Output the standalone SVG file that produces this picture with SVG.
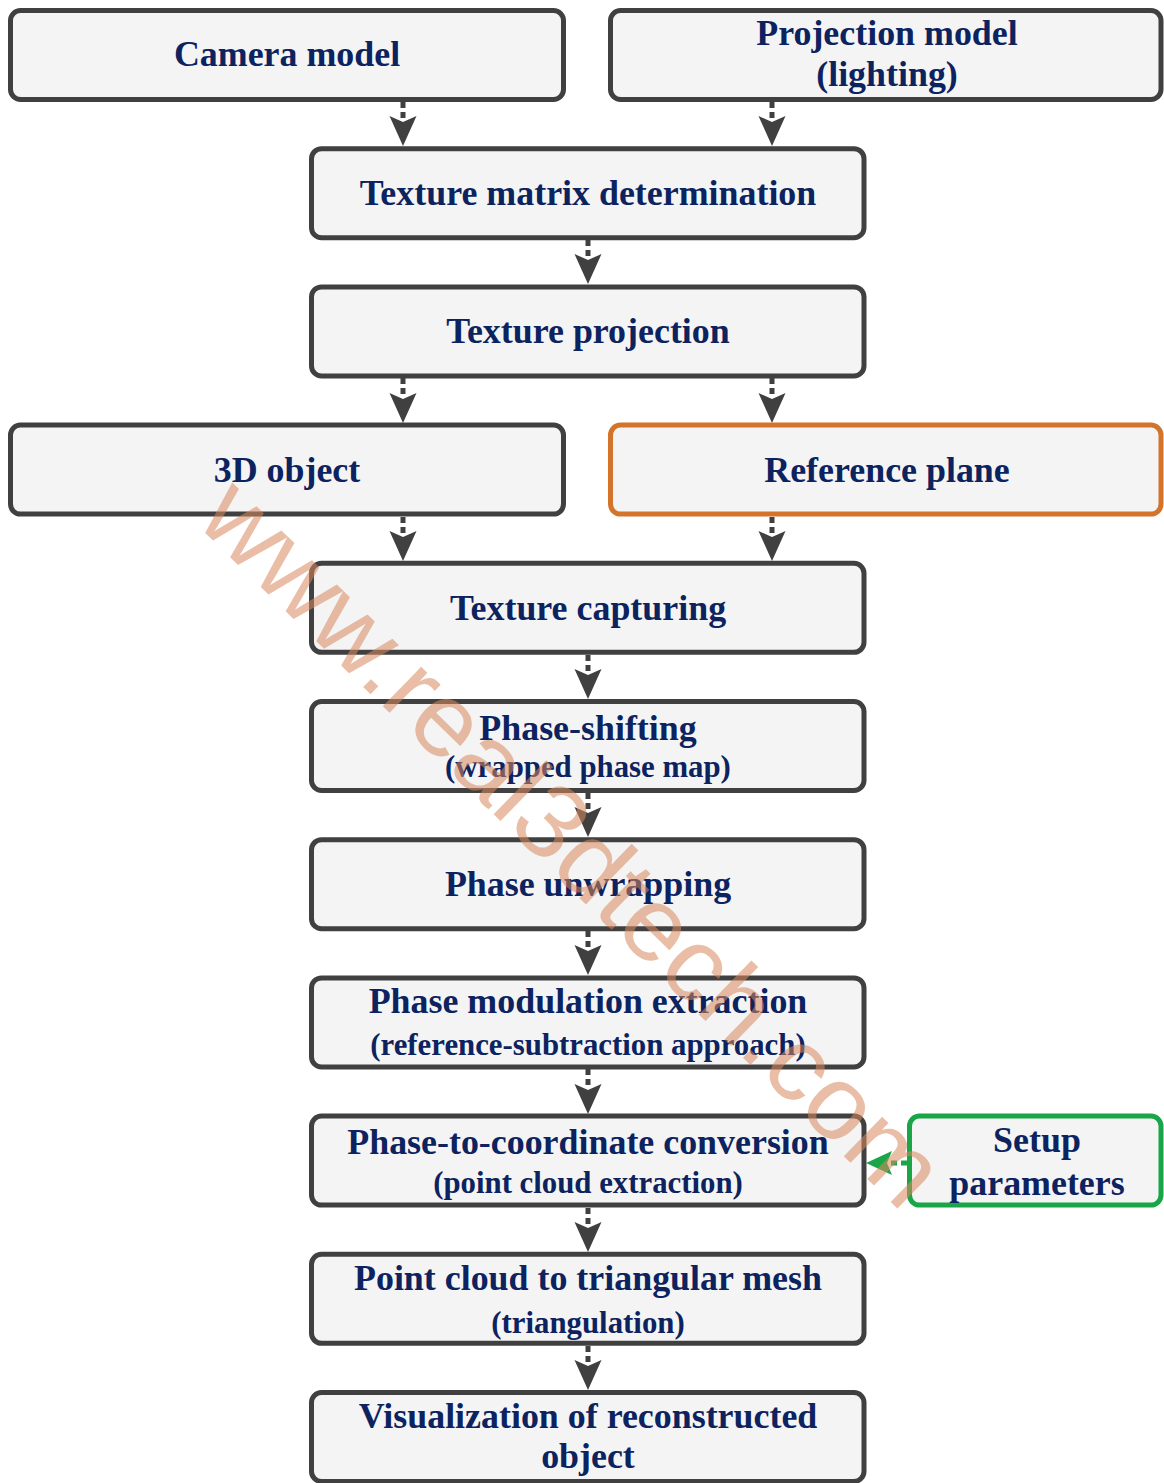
<svg xmlns="http://www.w3.org/2000/svg" width="1164" height="1483" viewBox="0 0 1164 1483">
<style>
.box{fill:#f4f4f4;stroke:#404040;stroke-width:5}
.orange{stroke:#d4742a}
.green{stroke:#19a548}
.t{font-family:"Liberation Serif","Times New Roman",serif;font-weight:bold;fill:#0c235f;text-anchor:middle;font-size:35.9px}
.s{font-size:30.8px}
.stem{stroke:#404040;stroke-width:5;stroke-dasharray:6 4;fill:none}
.head{fill:#404040}
.wm{font-family:"Liberation Sans",Arial,sans-serif;font-size:104px;fill:#d98a5f;opacity:0.55}
</style>
<defs>
<polygon id="ah" points="-13.5,-30 0,-24 13.5,-30 0,0"/>
</defs>
<rect width="1164" height="1483" fill="#ffffff"/>
<g id="connectors">
<line class="stem" x1="403" y1="102" x2="403" y2="118"/><use href="#ah" class="head" x="403" y="146"/>
<line class="stem" x1="772" y1="102" x2="772" y2="118"/><use href="#ah" class="head" x="772" y="146"/>
<line class="stem" x1="588" y1="240" x2="588" y2="256"/><use href="#ah" class="head" x="588" y="284"/>
<line class="stem" x1="403" y1="378" x2="403" y2="394"/><use href="#ah" class="head" x="403" y="423"/>
<line class="stem" x1="772" y1="378" x2="772" y2="394"/><use href="#ah" class="head" x="772" y="423"/>
<line class="stem" x1="403" y1="517" x2="403" y2="533"/><use href="#ah" class="head" x="403" y="561"/>
<line class="stem" x1="772" y1="517" x2="772" y2="533"/><use href="#ah" class="head" x="772" y="561"/>
<line class="stem" x1="588" y1="655" x2="588" y2="671"/><use href="#ah" class="head" x="588" y="699"/>
<line class="stem" x1="588" y1="793" x2="588" y2="809"/><use href="#ah" class="head" x="588" y="837"/>
<line class="stem" x1="588" y1="931" x2="588" y2="947"/><use href="#ah" class="head" x="588" y="975"/>
<line class="stem" x1="588" y1="1069" x2="588" y2="1085"/><use href="#ah" class="head" x="588" y="1114"/>
<line class="stem" x1="588" y1="1208" x2="588" y2="1224"/><use href="#ah" class="head" x="588" y="1252"/>
<line class="stem" x1="588" y1="1346" x2="588" y2="1362"/><use href="#ah" class="head" x="588" y="1390"/>
<line x1="907" y1="1163" x2="888" y2="1163" stroke="#19a548" stroke-width="5" stroke-dasharray="6 4"/>
<polygon points="866,1163 892,1151 887,1163 892,1175" fill="#19a548"/>
</g>
<g id="camera-model"><rect class="box" x="10.5" y="10.5" width="553" height="89" rx="10"/><text class="t" x="287" y="66">Camera model</text></g>
<g id="projection-model"><rect class="box" x="610.5" y="10.5" width="550.5" height="89" rx="10"/><text class="t" x="887" y="45">Projection model</text><text class="t" x="887" y="86">(lighting)</text></g>
<g id="texture-matrix"><rect class="box" x="311.5" y="148.7" width="552.5" height="89" rx="10"/><text class="t" x="588" y="205">Texture matrix determination</text></g>
<g id="texture-projection"><rect class="box" x="311.5" y="286.9" width="552.5" height="89" rx="10"/><text class="t" x="588" y="343">Texture projection</text></g>
<g id="object-3d"><rect class="box" x="10.5" y="425.1" width="553" height="89" rx="10"/><text class="t" x="287" y="482">3D object</text></g>
<g id="reference-plane"><rect class="box orange" x="610.5" y="425.1" width="550.5" height="89" rx="10"/><text class="t" x="887" y="482">Reference plane</text></g>
<g id="texture-capturing"><rect class="box" x="311.5" y="563.3" width="552.5" height="89" rx="10"/><text class="t" x="588" y="620">Texture capturing</text></g>
<g id="phase-shifting"><rect class="box" x="311.5" y="701.5" width="552.5" height="89" rx="10"/><text class="t" x="588" y="740">Phase-shifting</text><text class="t s" x="588" y="777">(wrapped phase map)</text></g>
<g id="phase-unwrapping"><rect class="box" x="311.5" y="839.7" width="552.5" height="89" rx="10"/><text class="t" x="588" y="896">Phase unwrapping</text></g>
<g id="phase-modulation"><rect class="box" x="311.5" y="977.9" width="552.5" height="89" rx="10"/><text class="t" x="588" y="1013">Phase modulation extraction</text><text class="t s" x="588" y="1055">(reference-subtraction approach)</text></g>
<g id="phase-to-coordinate"><rect class="box" x="311.5" y="1116.1" width="552.5" height="89" rx="10"/><text class="t" x="588" y="1154">Phase-to-coordinate conversion</text><text class="t s" x="588" y="1193">(point cloud extraction)</text></g>
<g id="setup-parameters"><rect class="box green" x="909.5" y="1116.1" width="251.5" height="89" rx="10"/><text class="t" x="1037" y="1152">Setup</text><text class="t" x="1037" y="1195">parameters</text></g>
<g id="point-cloud-mesh"><rect class="box" x="311.5" y="1254.3" width="552.5" height="89" rx="10"/><text class="t" x="588" y="1290">Point cloud to triangular mesh</text><text class="t s" x="588" y="1333">(triangulation)</text></g>
<g id="visualization"><rect class="box" x="311.5" y="1392.5" width="552.5" height="89" rx="10"/><text class="t" x="588" y="1428">Visualization of reconstructed</text><text class="t" x="588" y="1468">object</text></g>
<text class="wm" transform="translate(194,522) rotate(44.3)" textLength="990" lengthAdjust="spacingAndGlyphs">www.real3dtech.com</text>
</svg>
